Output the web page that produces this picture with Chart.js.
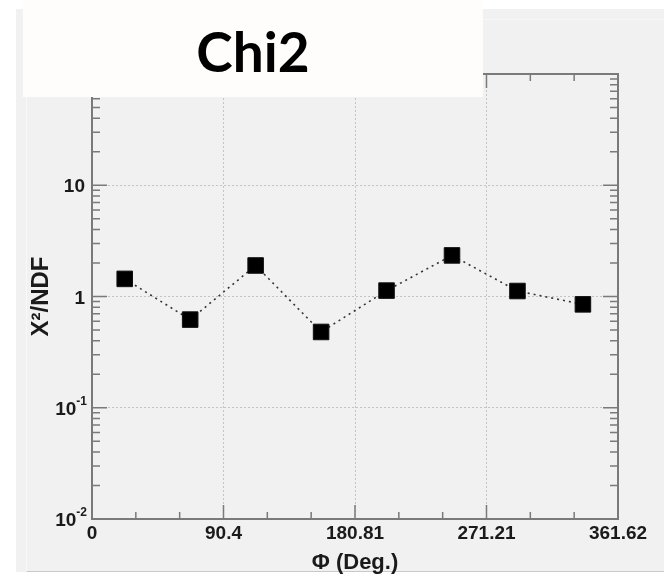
<!DOCTYPE html>
<html lang="en">
<head>
    <meta charset="UTF-8">
    <title>Chi2</title>
    <script src="https://cdn.jsdelivr.net/npm/chart.js"></script>
    <style>
        body {
            margin: 0;
            padding: 0;
            background-color: #fff;
            font-family: "Liberation Sans", Arial, sans-serif;
        }

        .wrap {
            position: relative;
            width: 664px;
            height: 576px;
            overflow: hidden;
        }

        .panel {
            position: absolute;
            left: 16px;
            top: 9px;
            width: 660px;
            height: 563px;
            background-color: #f1f1f1;
        }

        .panel-inner {
            position: absolute;
            left: 10px;
            top: 10px;
            right: 0;
            bottom: 0;
            border-left: 1px solid #f8f8f8;
            border-top: 1px solid #f8f8f8;
            border-bottom: 1px solid #c9c9c9;
        }

        canvas {
            position: absolute;
            left: 0;
            top: 0;
        }

        .title-box {
            position: absolute;
            left: 23px;
            top: 0;
            width: 460px;
            height: 97px;
            background-color: #fefdfc;
            text-align: center;
        }

        .title-box span {
            display: inline-block;
            margin-top: 18px;
            font-family: Lato, "DejaVu Sans", sans-serif;
            font-weight: bold;
            font-size: 55px;
            color: #000;
        }
    </style>
</head>
<body>
    <div class="wrap">
        <div class="panel"><div class="panel-inner"></div></div>
        <canvas id="myChart" width="664" height="576"></canvas>
        <div class="title-box"><span>Chi2</span></div>
    </div>

<script>
    // phi bin centres (degrees) and chi2/ndf per bin
    var phiDeg = [22.5, 67.5, 112.5, 157.5, 202.5, 247.5, 292.5, 337.5];
    var chi2Ndf = [1.44, 0.62, 1.90, 0.48, 1.13, 2.34, 1.12, 0.85];

    var xTicks = [0, 90.4, 180.81, 271.21, 361.62];
    var xTickLabels = ['0', '90.4', '180.81', '271.21', '361.62'];
    var yTicks = [0.01, 0.1, 1, 10, 100];
    // [base, exponent] for each decade label; top one sits under the title box
    var yTickLabels = [['10', '-2'], ['10', '-1'], ['1', ''], ['10', ''], ['', '']];

    var frameColor = '#7a7a7a';
    var labelColor = '#1a1a1a';
    var labelFont = '"Liberation Sans", Arial, sans-serif';

    // ROOT style frame with inward ticks on all four sides
    var frameTicks = {
        id: 'frameTicks',
        afterDatasetsDraw: function(chart) {
            var ctx = chart.ctx;
            var a = chart.chartArea;
            var xs = chart.scales.x;
            var ys = chart.scales.y;
            ctx.save();
            ctx.strokeStyle = frameColor;
            ctx.lineWidth = 1.5;

            // x ticks, two minors between each major
            for (var i = 0; i < xTicks.length; i++) {
                var px = xs.getPixelForValue(xTicks[i]);
                ctx.beginPath();
                ctx.moveTo(px, a.bottom); ctx.lineTo(px, a.bottom - 14);
                ctx.moveTo(px, a.top); ctx.lineTo(px, a.top + 14);
                ctx.stroke();
                if (i < xTicks.length - 1) {
                    var step = (xTicks[i + 1] - xTicks[i]) / 3;
                    for (var k = 1; k < 3; k++) {
                        var mx = xs.getPixelForValue(xTicks[i] + k * step);
                        ctx.beginPath();
                        ctx.moveTo(mx, a.bottom); ctx.lineTo(mx, a.bottom - 7);
                        ctx.moveTo(mx, a.top); ctx.lineTo(mx, a.top + 7);
                        ctx.stroke();
                    }
                }
            }

            // log y ticks, minors at 2..9 of each decade
            for (var j = 0; j < yTicks.length; j++) {
                var py = ys.getPixelForValue(yTicks[j]);
                ctx.beginPath();
                ctx.moveTo(a.left, py); ctx.lineTo(a.left + 15, py);
                ctx.moveTo(a.right, py); ctx.lineTo(a.right - 15, py);
                ctx.stroke();
                if (j < yTicks.length - 1) {
                    for (var m = 2; m <= 9; m++) {
                        var my = ys.getPixelForValue(yTicks[j] * m);
                        ctx.beginPath();
                        ctx.moveTo(a.left, my); ctx.lineTo(a.left + 8, my);
                        ctx.moveTo(a.right, my); ctx.lineTo(a.right - 8, my);
                        ctx.stroke();
                    }
                }
            }

            ctx.lineWidth = 2;
            ctx.strokeRect(a.left, a.top, a.right - a.left, a.bottom - a.top);

            // y labels as 10^n with a raised exponent
            ctx.fillStyle = labelColor;
            ctx.textBaseline = 'middle';
            for (var n = 0; n < yTicks.length; n++) {
                var base = yTickLabels[n][0];
                var exp = yTickLabels[n][1];
                if (!base) continue;
                var ly = ys.getPixelForValue(yTicks[n]);
                var right = a.left - 7;
                ctx.textAlign = 'right';
                if (exp) {
                    ctx.font = 'bold 12px ' + labelFont;
                    var ew = ctx.measureText(exp).width;
                    ctx.fillText(exp, right + 2, ly - 6);
                    right = right + 2 - ew;
                }
                ctx.font = 'bold 19px ' + labelFont;
                ctx.fillText(base, right, ly + 2);
            }
            ctx.restore();
        }
    };

    window.onload = function() {
        var points = phiDeg.map(function(x, i) {
            return { x: x, y: chi2Ndf[i] };
        });

        var ctx = document.getElementById('myChart').getContext('2d');
        var myChart = new Chart(ctx, {
            type: 'line',
            data: {
                datasets: [{
                    label: 'chi2/ndf',
                    data: points,
                    borderColor: '#333',
                    borderWidth: 1.6,
                    borderDash: [2, 4],
                    pointStyle: 'rect',
                    pointRadius: 11,
                    pointBackgroundColor: '#000',
                    pointBorderColor: '#111',
                    pointBorderWidth: 1,
                    fill: false,
                    tension: 0
                }]
            },
            plugins: [frameTicks],
            options: {
                responsive: false,
                animation: false,
                devicePixelRatio: 1,
                layout: {
                    padding: { left: 0, top: 74, right: 46, bottom: 0 }
                },
                plugins: {
                    legend: { display: false },
                    tooltip: { enabled: false }
                },
                scales: {
                    x: {
                        type: 'linear',
                        min: 0,
                        max: 361.62,
                        afterBuildTicks: function(scale) {
                            scale.ticks = xTicks.map(function(v) { return { value: v }; });
                        },
                        afterFit: function(scale) {
                            scale.height = 57;
                        },
                        grid: {
                            drawTicks: false,
                            lineWidth: 1,
                            color: function(c) {
                                var v = c.tick ? c.tick.value : 0;
                                return (v > 0 && v < 361) ? '#c4c4c4' : 'rgba(0,0,0,0)';
                            }
                        },
                        border: { display: false, dash: [2, 2] },
                        ticks: {
                            autoSkip: false,
                            maxRotation: 0,
                            padding: 3,
                            color: labelColor,
                            font: { family: labelFont, size: 19, weight: 'bold' },
                            callback: function(value, index) {
                                return xTickLabels[index];
                            }
                        },
                        title: {
                            display: true,
                            text: '\u03A6 (Deg.)',
                            color: labelColor,
                            padding: { top: 0, bottom: 0 },
                            font: { family: labelFont, size: 22, weight: 'bold' }
                        }
                    },
                    y: {
                        type: 'logarithmic',
                        min: 0.01,
                        max: 100,
                        afterBuildTicks: function(scale) {
                            scale.ticks = yTicks.map(function(v) { return { value: v }; });
                        },
                        afterFit: function(scale) {
                            scale.width = 92;
                        },
                        grid: {
                            drawTicks: false,
                            lineWidth: 1,
                            color: function(c) {
                                var v = c.tick ? c.tick.value : 0;
                                return (v > 0.05 && v < 50) ? '#c4c4c4' : 'rgba(0,0,0,0)';
                            }
                        },
                        border: { display: false, dash: [2, 2] },
                        ticks: {
                            display: false
                        },
                        title: {
                            display: true,
                            text: 'X\u00B2/NDF',
                            color: labelColor,
                            padding: { top: 27, bottom: 0 },
                            font: { family: labelFont, size: 24, weight: 'bold' }
                        }
                    }
                }
            }
        });
    };
</script>
</body>
</html>
